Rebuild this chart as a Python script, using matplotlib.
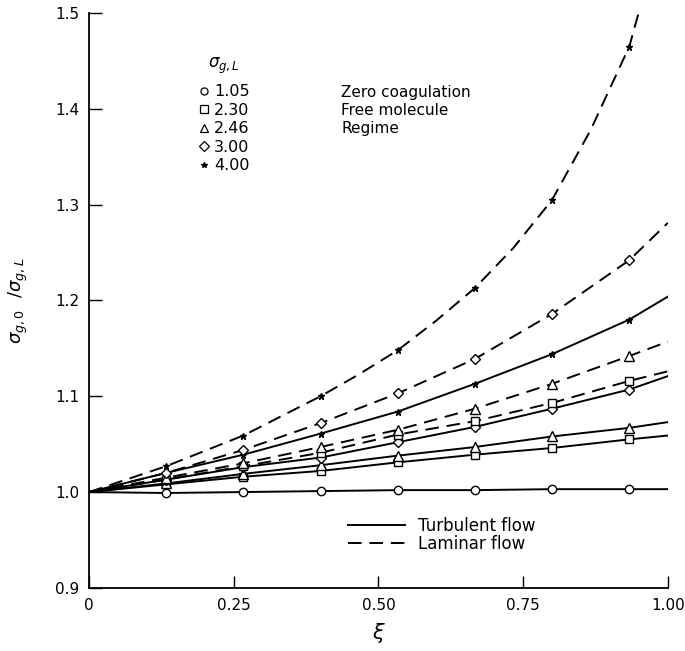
import numpy as np
import matplotlib
matplotlib.use("Agg")
import matplotlib.pyplot as plt
from matplotlib.lines import Line2D

plt.rcParams['font.family'] = ['DejaVu Sans']
plt.rcParams['mathtext.fontset'] = 'dejavusans'

# xi grid (marker positions are at 2k/15)
xi = [0.0, 2/15, 4/15, 6/15, 8/15, 10/15, 12/15, 14/15, 1.0]

# sigma_g,0 / sigma_g,L  -- turbulent flow (solid)
turb_105 = [1.000, 0.999, 1.000, 1.001, 1.002, 1.002, 1.003, 1.003, 1.003]
turb_230 = [1.000, 1.008, 1.016, 1.022, 1.031, 1.039, 1.046, 1.055, 1.059]
turb_246 = [1.000, 1.009, 1.019, 1.028, 1.038, 1.047, 1.058, 1.067, 1.073]
turb_300 = [1.000, 1.013, 1.026, 1.036, 1.052, 1.068, 1.087, 1.107, 1.121]
turb_400 = [1.000, 1.020, 1.039, 1.061, 1.084, 1.113, 1.144, 1.180, 1.204]

# laminar flow (dashed)
lam_230 = [1.000, 1.013, 1.027, 1.041, 1.060, 1.074, 1.093, 1.116, 1.126]
lam_246 = [1.000, 1.015, 1.030, 1.047, 1.065, 1.087, 1.113, 1.142, 1.157]
lam_300 = [1.000, 1.020, 1.044, 1.072, 1.103, 1.139, 1.186, 1.242, 1.281]

# the steep 4.00 laminar curve, read at a finer step
xi_top = [0.0, 2/15, 4/15, 6/15, 7/15, 8/15, 9/15, 10/15, 11/15, 12/15, 13/15, 14/15, 1.0]
lam_400 = [1.000, 1.027, 1.059, 1.100, 1.123, 1.148, 1.179, 1.213, 1.255, 1.305, 1.378, 1.465, 1.610]

sigma_labels = ["1.05", "2.30", "2.46", "3.00", "4.00"]
markers = ["o", "s", "^", "D", "*"]
msizes = [6, 6, 6.5, 5.5, 5]

fig = plt.figure(figsize=(6.85, 6.51), dpi=100)
ax = fig.add_axes([0.130, 0.097, 0.845, 0.883])

dash = (0, (7, 4))
series = [
    (xi, turb_105, 0, "-"), (xi, turb_230, 1, "-"), (xi, turb_246, 2, "-"),
    (xi, turb_300, 3, "-"), (xi, turb_400, 4, "-"),
    (xi, lam_230, 1, dash), (xi, lam_246, 2, dash), (xi, lam_300, 3, dash),
    (xi_top, lam_400, 4, dash),
]
for xs, ys, k, ls in series:
    ax.plot(xs, ys, color="black", lw=1.4, ls=ls, zorder=2)
    mk = markers[k]
    # markers sit on the 2k/15 points only
    mx = [x for x in xs[1:-1] if round(x * 15) % 2 == 0]
    my = [y for x, y in zip(xs[1:-1], ys[1:-1]) if round(x * 15) % 2 == 0]
    ax.plot(mx, my, ls="none", marker=mk, ms=msizes[k],
            mfc="black" if mk == "*" else "white", mec="black", mew=1.0, zorder=3)

ax.set_xlim(0, 1.0)
ax.set_ylim(0.9, 1.5)
ax.set_xticks([0, 0.25, 0.5, 0.75, 1.0])
ax.set_xticklabels(["0", "0.25", "0.50", "0.75", "1.00"])
ax.set_yticks([0.9, 1.0, 1.1, 1.2, 1.3, 1.4, 1.5])
ax.set_yticklabels(["0.9", "1.0", "1.1", "1.2", "1.3", "1.4", "1.5"])
ax.tick_params(direction="in", length=9, width=1, labelsize=11, pad=7)
for s in ["top", "right"]:
    ax.spines[s].set_visible(False)
for s in ["left", "bottom"]:
    ax.spines[s].set_linewidth(1.3)

ax.set_xlabel(r"$\xi$", fontsize=15, labelpad=6)
ax.set_ylabel(r"$\sigma_{g,0}\ \ /\sigma_{g,L}$", fontsize=13, labelpad=18)

# marker legend
h1 = [Line2D([], [], ls="none", marker=m, ms=s * 0.85, color="black",
             mfc="black" if m == "*" else "white", mec="black", mew=0.9)
      for m, s in zip(markers, msizes)]
leg1 = ax.legend(h1, sigma_labels, title=r"$\sigma_{g,L}$", loc="upper left",
                 bbox_to_anchor=(0.176, 0.943), frameon=False, fontsize=11.5,
                 title_fontsize=12, handlelength=0.6, handletextpad=0.35,
                 labelspacing=0.22, borderpad=0)
leg1._legend_box.align = "center"
leg1._legend_box.sep = 6
ax.add_artist(leg1)

ax.text(0.436, 0.874, "Zero coagulation\nFree molecule\nRegime", transform=ax.transAxes,
        fontsize=11, va="top", ha="left", linespacing=1.25)

# flow legend
h2 = [Line2D([], [], color="black", lw=1.4, ls="-"),
      Line2D([], [], color="black", lw=1.4, ls=dash)]
ax.legend(h2, ["Turbulent flow", "Laminar flow"], loc="upper left",
          bbox_to_anchor=(0.433, 0.138), frameon=False, fontsize=12,
          handlelength=3.4, handletextpad=0.8, labelspacing=0.0, borderpad=0)

fig.savefig("out.png", dpi=100)
